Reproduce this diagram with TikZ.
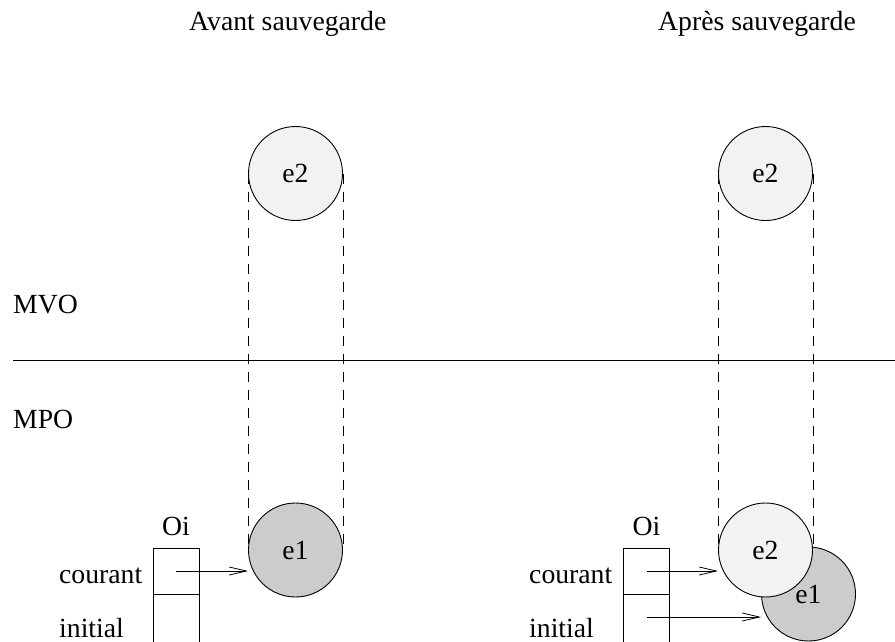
\documentclass[tikz,border=0pt]{standalone}
\usepackage{fontspec}
\setmainfont{Liberation Serif}
\usetikzlibrary{arrows.meta,backgrounds}

\tikzset{
  lbl/.style={inner sep=0pt, font=\fontsize{27.7}{30}\selectfont},
  etat/.style={circle, draw, line width=0.9pt, minimum size=94pt, inner sep=0pt,
               font=\fontsize{27.7}{30}\selectfont},
  vol/.style={etat, fill=black!5},
  per/.style={etat, fill=black!20},
  cell/.style={draw, line width=0.9pt, minimum width=46pt, minimum height=46pt, inner sep=0pt},
  guide/.style={line width=0.8pt, dash pattern=on 10pt off 8pt},
  ptr/.style={line width=0.8pt, -{Straight Barb[length=17pt,width=8pt,line width=0.8pt]}},
}

\begin{document}
\begin{tikzpicture}[x=1pt, y=-1pt]
  \useasboundingbox (0,0) rectangle (895,641);

  % titles
  \node[lbl, anchor=base west] (t1) at (189,30) {Avant sauvegarde};
  \node[lbl, anchor=base west] (t2) at (658,30) {Après sauvegarde};

  % memory levels
  \node[lbl, anchor=base west] (mvo) at (13,313) {MVO};
  \node[lbl, anchor=base west] (mpo) at (13,428) {MPO};
  \coordinate (sepL) at (13,360);
  \coordinate (sepR) at (896,360);
  \draw[line width=0.9pt] (sepL) -- (sepR);

  % before saving
  \node[vol] (e2a) at (295.5,173.5) {e2};
  \node[per] (e1a) at (295.5,550) {e1};

  % after saving
  \node[vol] (e2b) at (765.5,173.5) {e2};
  \node[per] (e1b) at (808.5,594) {e1};
  \node[vol] (e2c) at (765.5,550) {e2};

  \begin{scope}[on background layer]
    \draw[guide] (e2a.west) -- (e1a.west);
    \draw[guide] (e2a.east) -- (e1a.east);
    \draw[guide] (e2b.west) -- (e2c.west);
    \draw[guide] (e2b.east) -- (e2c.east);
  \end{scope}

  % object Oi, left
  \node[cell] (c1a) at (176,571) {};
  \node[cell, minimum height=52pt, anchor=north] (c2a) at (c1a.south) {};
  \node[lbl, anchor=base] (oia) at (176,535) {Oi};
  \node[lbl, anchor=base west] (cora) at (59,583) {courant};
  \node[lbl, anchor=base west] (inia) at (59,637) {initial};
  \draw[ptr] (c1a.center) -- (c1a.center -| e1a.west);

  % object Oi, right
  \node[cell] (c1b) at (646.5,571) {};
  \node[cell, minimum height=52pt, anchor=north] (c2b) at (c1b.south) {};
  \node[lbl, anchor=base] (oib) at (646.5,535) {Oi};
  \node[lbl, anchor=base west] (corb) at (529,583) {courant};
  \node[lbl, anchor=base west] (inib) at (529,637) {initial};
  \coordinate (p2) at (646.5,617);
  \draw[ptr] (c1b.center) -- (c1b.center -| e2c.west);
  \draw[ptr] (p2) -- (p2 -| e1b.west);
\end{tikzpicture}
\end{document}
